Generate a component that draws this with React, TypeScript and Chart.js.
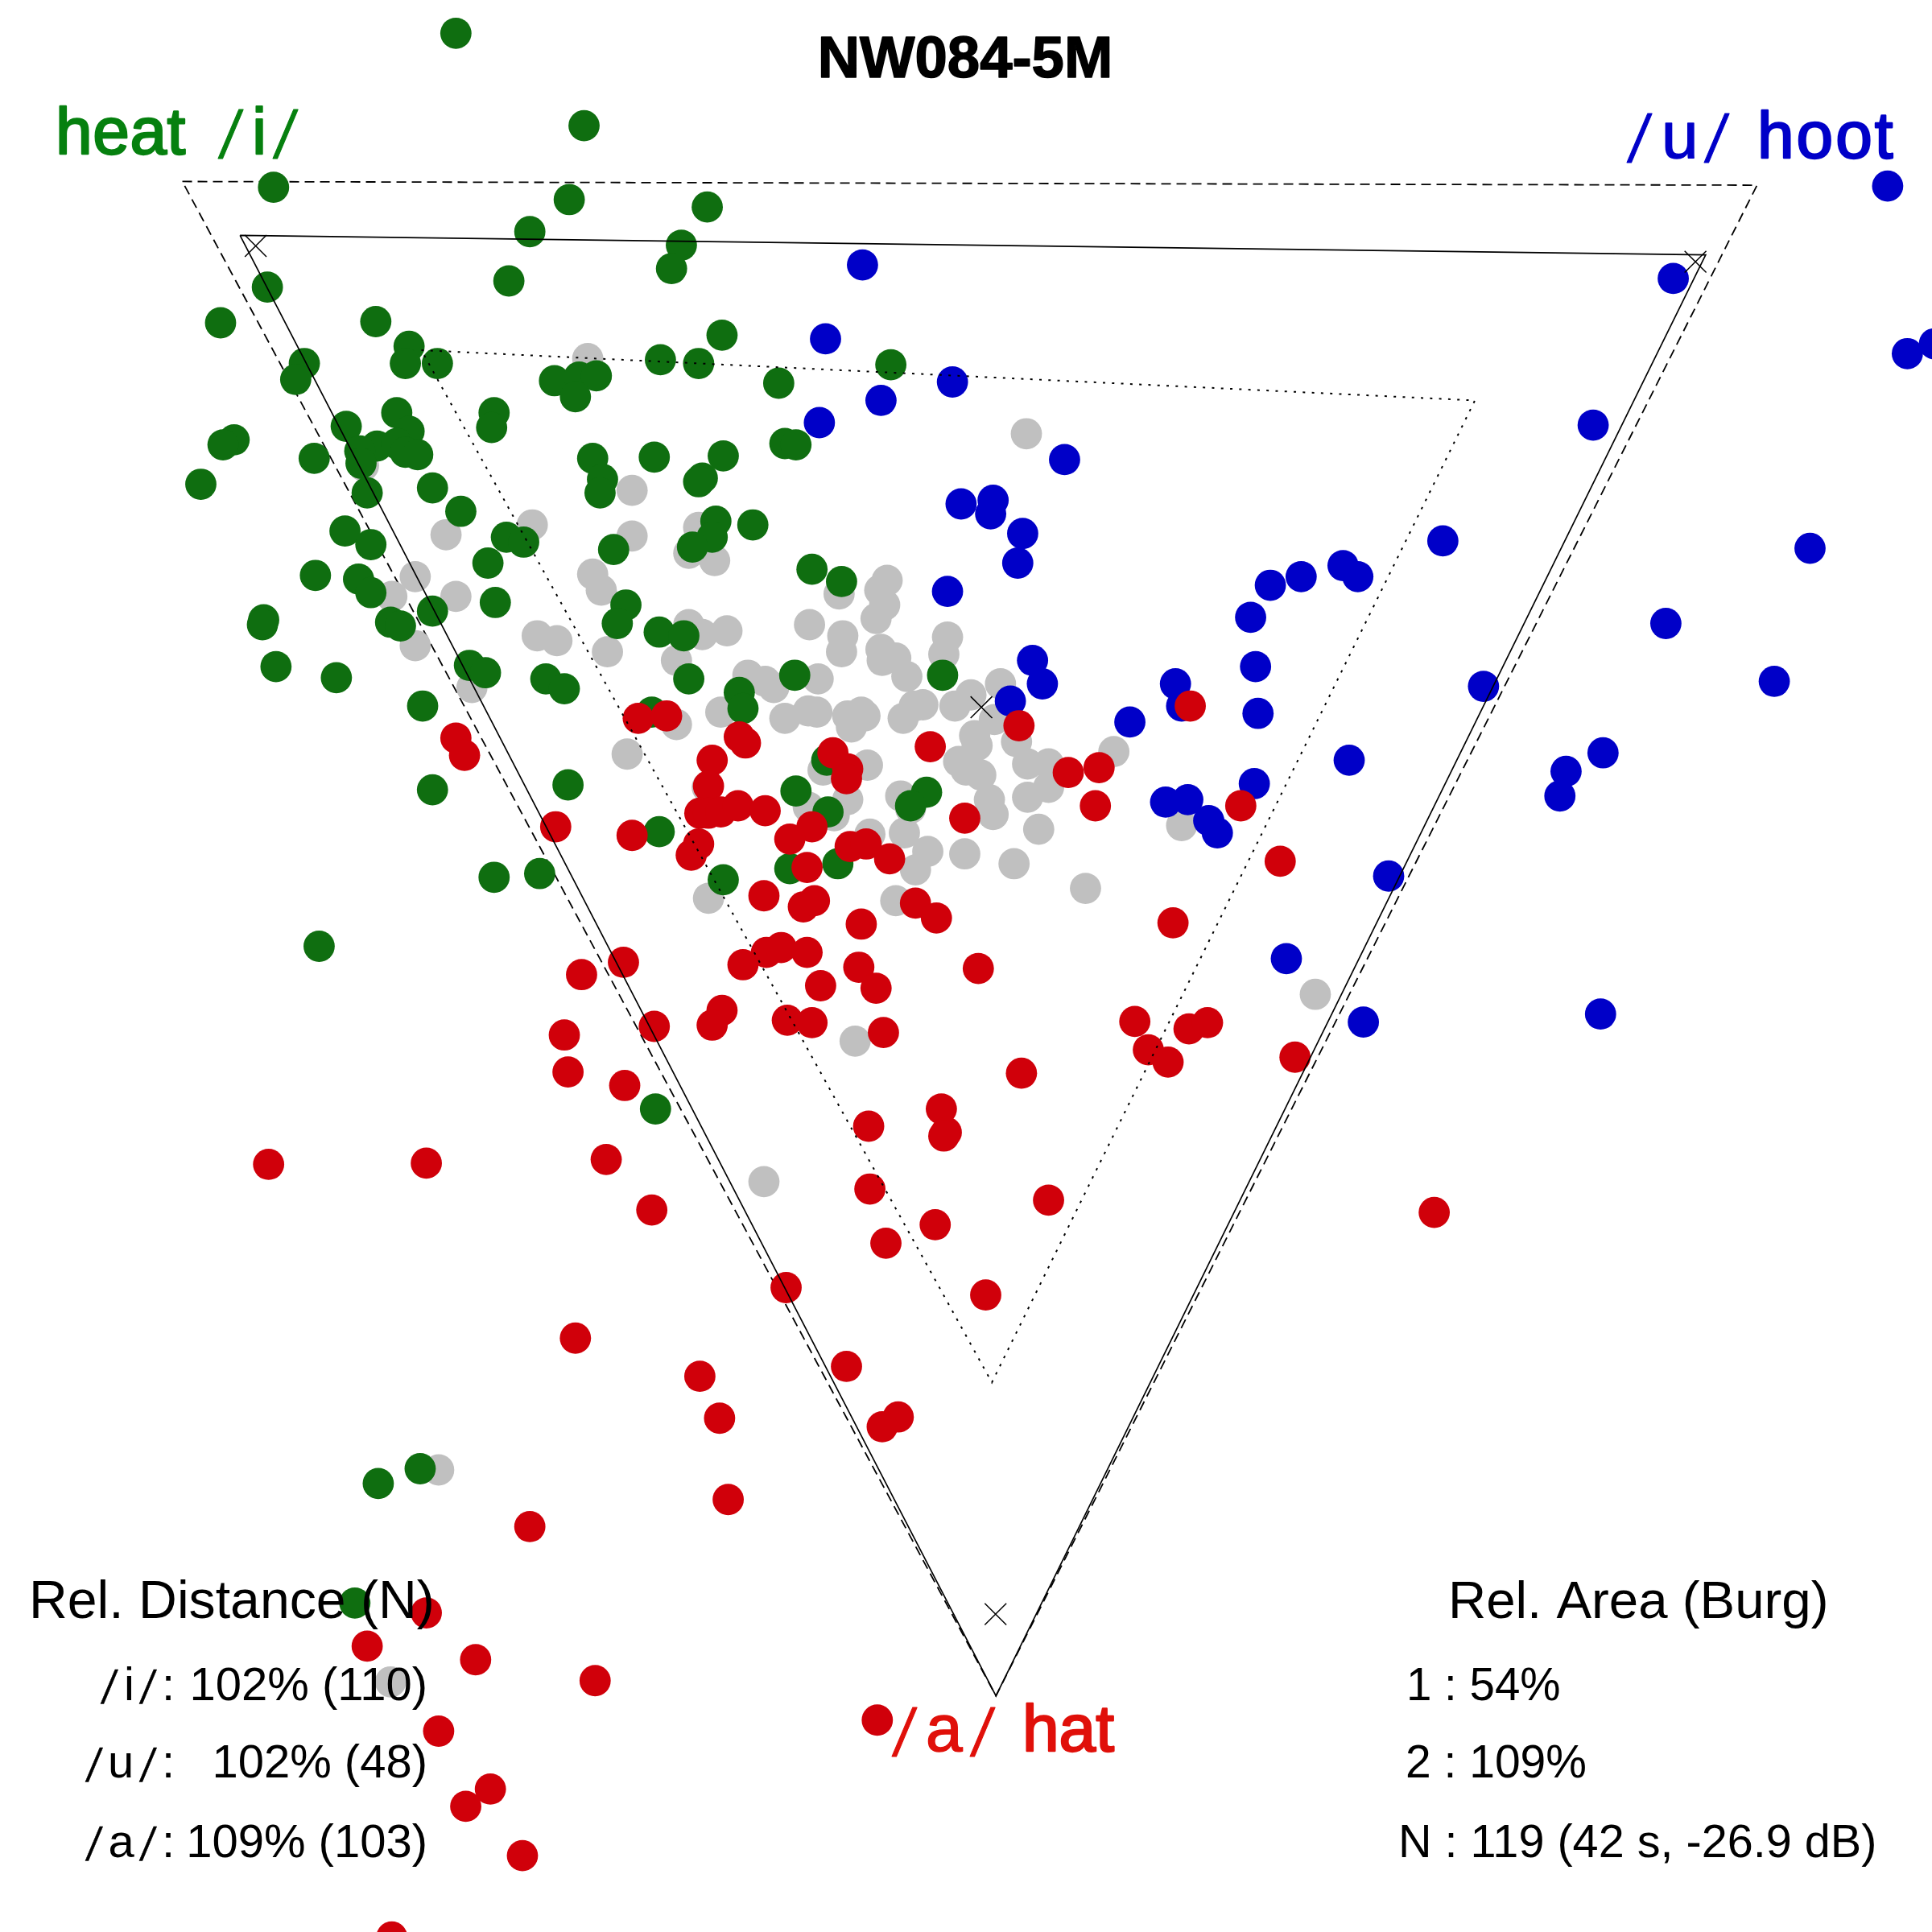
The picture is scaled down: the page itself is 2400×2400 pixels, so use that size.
import React, { useEffect, useRef } from "react";
import { Chart, registerables } from "chart.js";

Chart.register(...registerables);

type P = [number, number];

const greenPoints: P[] = [[370,27],[474,102],[222,152],[462,162],[574,168],[430,188],[553,199],[545,218],[413,228],[217,233],[179,262],[305,261],[332,281],[329,295],[355,295],[247,295],[240,308],[586,272],[536,292],[567,295],[723,296],[632,311],[450,309],[470,306],[484,305],[467,322],[401,335],[399,347],[322,335],[281,346],[332,350],[306,362],[322,360],[329,367],[339,369],[292,366],[293,376],[190,357],[181,361],[255,372],[163,393],[298,400],[351,396],[374,415],[481,372],[531,371],[587,370],[637,360],[646,361],[570,388],[567,391],[489,389],[487,400],[280,431],[301,442],[411,436],[425,440],[396,457],[581,423],[578,436],[611,426],[562,444],[498,446],[659,462],[683,472],[291,470],[301,481],[256,467],[402,489],[351,496],[508,491],[501,506],[214,503],[213,507],[317,505],[325,508],[535,513],[555,516],[224,541],[273,550],[381,540],[394,546],[443,551],[458,559],[559,551],[645,548],[765,548],[600,562],[603,575],[343,573],[529,578],[351,641],[461,637],[646,642],[752,643],[739,654],[672,659],[671,617],[535,675],[401,712],[438,709],[587,714],[641,705],[680,701],[259,768],[532,900],[341,1192],[307,1204],[288,1301]];

const bluePoints: P[] = [[1532,151],[1358,226],[700,215],[670,275],[1548,287],[1570,279],[773,310],[715,325],[665,343],[1293,345],[864,373],[780,409],[806,406],[804,417],[830,433],[826,457],[1171,439],[1469,445],[1090,459],[1102,468],[1056,468],[1031,475],[769,480],[1015,501],[1352,506],[838,536],[846,555],[1019,541],[954,555],[959,573],[1204,557],[1440,553],[820,569],[917,586],[1021,579],[1095,617],[1301,611],[1271,626],[1266,646],[1018,636],[946,651],[964,649],[981,666],[988,676],[1127,711],[1044,778],[1106.5,829.5],[1299,823]];

const redPoints: P[] = [[518,583],[541,581],[370,599],[377,613],[600,598],[605,603],[578,617],[575,638],[676,611],[688,624],[687,632],[755,606],[827,589],[966,573],[867,627],[892,623],[889,654],[1007,654],[783,664],[451,671],[513,678],[568,660],[575,660],[585,659],[599,654],[621,658],[659,671],[641,681],[567,685],[561,694],[690,687],[703,685],[722,697],[655,704],[620,727],[652,736],[661,731],[743,733],[760,745],[699,750],[1039,699],[952,749],[506,781],[472,791],[603,783],[622,773],[634,769],[655,773],[697,785],[794,786],[666,800],[711,802],[586,820],[578,832],[531,833],[458,840],[461,870],[639,828],[659,830],[717,838],[921,829],[965,835],[980,830],[932,852],[948,862],[1051,858],[829,871],[507,881],[764,900],[705,914],[768,919],[766,922],[218,945],[346,944],[492,941],[706,965],[851,974],[529,982],[1164,984],[759,994],[719,1009],[638,1045],[800,1051],[467,1086],[687,1109],[568,1117],[584,1151],[729,1150],[716,1158],[591,1217],[430,1239],[346,1309],[298,1336],[386,1347],[483,1364],[712,1396],[356,1405],[398,1452],[378,1466],[424,1506],[318,1572]];

const greyPoints: P[] = [[513,435],[481,466],[488,479],[559,449],[580,455],[493,529],[559,507],[570,515],[590,512],[549,536],[681,482],[720,471],[714,479],[718,491],[711,502],[657,507],[684,516],[683,529],[715,527],[727,534],[716,536],[736,549],[769,517],[766,531],[607,548],[621,553],[628,558],[664,551],[585,578],[549,588],[509,612],[637,583],[656,577],[663,578],[688,581],[699,578],[702,581],[691,590],[733,583],[742,573],[749,572],[775,573],[788,564],[812,555],[807,584],[791,597],[793,605],[778,618],[784,625],[796,629],[825,602],[834,620],[851,620],[904,610],[851,639],[834,647],[843,673],[803,649],[806,661],[783,693],[823,701],[881,721],[704,621],[668,625],[688,649],[677,662],[656,655],[731,646],[739,656],[734,676],[706,677],[753,691],[743,706],[575,729],[727,731],[574,639],[477,291],[432,426],[362,434],[513,398],[295,378],[337,468],[370,484],[318,484],[337,524],[383,558],[436,516],[452,520],[694,845],[620,959],[356,1193],[317,1365],[1067.5,807],[959,670],[833,352],[567,428]];

const referenceMarks: P[] = [[207.5,199.6],[1376,212.4],[796.5,574],[808,1310]];
const dashedTriangle: P[] = [[148,147.3],[1426,150.3],[808.3,1376.4],[148,147.3]];
const solidTriangle: P[] = [[194.8,191],[1384.3,206.9],[808.3,1376.4],[194.8,191]];
const dottedTriangle: P[] = [[342,284.2],[1197,325],[805,1122],[342,284.2]];

const SANS = '"Liberation Sans"';
const SERIF = '"Liberation Serif"';
const GREEN = "#06800f";
const BLUE = "#0000c8";
const RED = "#e0100a";

const toXY = (l: P[]) => l.map(([x, y]) => ({ x, y }));

type T = { t: string; x: number; y: number; c?: string; s?: number; w?: string; f?: string; a?: CanvasTextAlign; st?: number; ls?: number; sx?: number };
const big = 82, slashBig = 92, small = 58, slashSmall = 64;
const slash = { s: slashBig, f: SERIF, sx: 1.22, st: 0.8 };
const slashS = { s: slashSmall, f: SERIF, sx: 1.22, st: 0.5 };
const texts: T[] = [
  { t: "NW084-5M", x: 1199, y: 96, s: 72.5, w: "bold", a: "center", st: 1.5 },
  { t: "heat", x: 69, y: 191, c: GREEN, s: big, st: 2.4, ls: 0.6 },
  { t: "/", x: 271, y: 196, c: GREEN, ...slash },
  { t: "i", x: 313, y: 191, c: GREEN, s: big, st: 2 },
  { t: "/", x: 339, y: 196, c: GREEN, ...slash },
  { t: "/", x: 2021, y: 201, c: BLUE, ...slash },
  { t: "u", x: 2064, y: 196, c: BLUE, s: big, st: 1.5 },
  { t: "/", x: 2117, y: 201, c: BLUE, ...slash },
  { t: "hoot", x: 2183, y: 196, c: BLUE, s: big, st: 2.4, ls: 3 },
  { t: "/", x: 1108, y: 2181, c: RED, ...slash },
  { t: "a", x: 1150, y: 2175, c: RED, s: big, st: 1.5 },
  { t: "/", x: 1205, y: 2181, c: RED, ...slash },
  { t: "hat", x: 1270, y: 2175, c: RED, s: big, st: 2.4 },
  { t: "Rel. Distance (N)", x: 36, y: 2010, s: 66.2 },
  { t: "/", x: 125, y: 2116, ...slashS },
  { t: "i", x: 154, y: 2112, s: small },
  { t: "/", x: 173, y: 2116, ...slashS },
  { t: ":", x: 201, y: 2112, s: small },
  { t: "102% (110)", x: 531, y: 2112, s: small, a: "right" },
  { t: "/", x: 106, y: 2213, ...slashS },
  { t: "u", x: 134, y: 2208, s: small },
  { t: "/", x: 173, y: 2213, ...slashS },
  { t: ":", x: 201, y: 2208, s: small },
  { t: "102% (48)", x: 531, y: 2208, s: small, a: "right" },
  { t: "/", x: 106, y: 2311, ...slashS },
  { t: "a", x: 134.5, y: 2307, s: small },
  { t: "/", x: 173, y: 2311, ...slashS },
  { t: ":", x: 201, y: 2307, s: small },
  { t: "109% (103)", x: 531, y: 2307, s: small, a: "right" },
  { t: "Rel. Area (Burg)", x: 1799, y: 2010, s: 65.4 },
  { t: "1 : 54%", x: 1747, y: 2112, s: 56.5 },
  { t: "2 : 109%", x: 1746, y: 2208, s: 57 },
  { t: "N : 119 (42 s, -26.9 dB)", x: 1737, y: 2307, s: 57.6 },
];

const textPlugin = {
  id: "vowelText",
  afterDraw(chart: any) {
    const ctx = chart.ctx as CanvasRenderingContext2D;
    for (const o of texts) {
      ctx.save();
      ctx.textBaseline = "alphabetic";
      ctx.translate(o.x, o.y);
      ctx.scale(o.sx ?? 1, 1);
      ctx.font = `${o.w ?? "normal"} ${o.s}px ${o.f ?? SANS}`;
      (ctx as any).letterSpacing = `${o.ls ?? 0}px`;
      ctx.fillStyle = o.c ?? "#000";
      ctx.textAlign = o.a ?? "left";
      ctx.fillText(o.t, 0, 0);
      if (o.st) {
        ctx.strokeStyle = o.c ?? "#000";
        ctx.lineWidth = o.st;
        ctx.lineJoin = "round";
        ctx.strokeText(o.t, 0, 0);
      }
      ctx.restore();
    }
  },
};

const dots = (label: string, list: P[], color: string, order: number) => ({
  label,
  data: toXY(list),
  order,
  pointRadius: 19.4,
  pointHoverRadius: 19.4,
  pointBorderWidth: 0,
  pointBackgroundColor: color,
  pointBorderColor: color,
  showLine: false,
  clip: false as const,
});

const outline = (label: string, list: P[], order: number, dash: number[], width: number) => ({
  label,
  data: toXY(list),
  order,
  showLine: true,
  tension: 0,
  pointRadius: 0,
  borderColor: "#000",
  borderWidth: width,
  borderDash: dash,
  borderJoinStyle: "miter" as const,
  clip: false as const,
});

export default function App() {
  const ref = useRef<HTMLCanvasElement>(null);
  useEffect(() => {
    document.body.style.margin = "0";
    document.body.style.background = "#fff";
    const chart = new Chart(ref.current!, {
      type: "scatter",
      data: {
        datasets: [
          outline("dashed", dashedTriangle, 7, [12, 7], 1.8),
          dots("other", greyPoints, "#c0c0c0", 6),
          dots("/u/", bluePoints, "#0000c8", 5),
          dots("/i/", greenPoints, "#0f6e10", 4),
          dots("/a/", redPoints, "#d0000a", 3),
          outline("solid", solidTriangle, 2, [], 1.7),
          outline("dotted", dottedTriangle, 1, [3, 8.3], 2),
          {
            label: "centres",
            data: toXY(referenceMarks),
            order: 0,
            pointStyle: "crossRot",
            pointRadius: 19,
            pointBorderWidth: 1.5,
            pointBorderColor: "#000",
            showLine: false,
            clip: false as const,
          },
        ] as any,
      },
      options: {
        responsive: false,
        animation: false,
        layout: { padding: 0, autoPadding: false },
        events: [],
        plugins: { legend: { display: false }, tooltip: { enabled: false }, title: { display: false } },
        scales: {
          x: { type: "linear", min: 0, max: 1568, display: false },
          y: { type: "linear", min: 0, max: 1568, reverse: true, display: false },
        },
      },
      plugins: [textPlugin],
    });
    return () => chart.destroy();
  }, []);
  return <canvas ref={ref} width={2400} height={2400} style={{ display: "block" }} />;
}
